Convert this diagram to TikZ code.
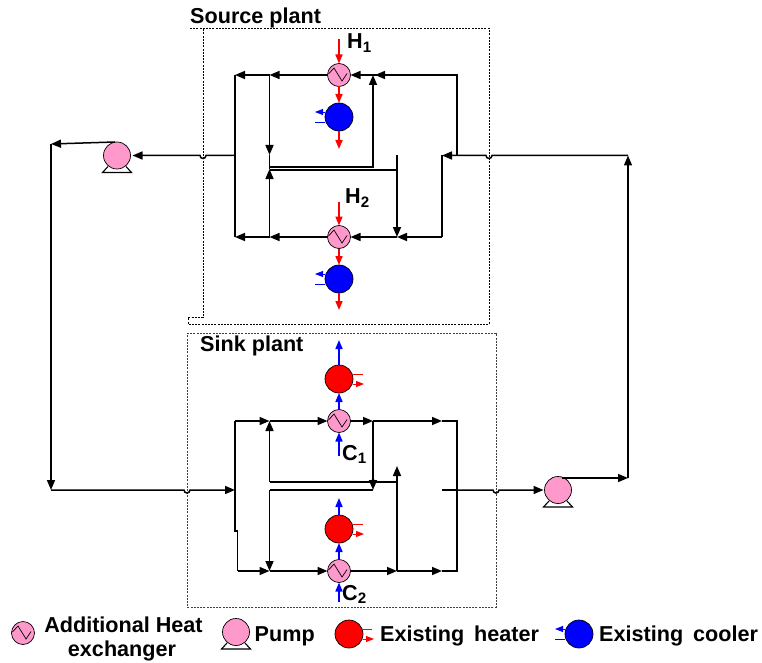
\documentclass[tikz,border=0pt]{standalone}
\usepackage{fontspec}
\setmainfont{Liberation Sans}
\usetikzlibrary{arrows.meta}
\definecolor{pinkfill}{HTML}{FF99CC}
\tikzset{
  x=1pt,y=-1pt,
  pipe/.style={draw=black,line width=1.5pt},
  tipped/.style={pipe,-{Triangle[length=10pt,width=8pt]}},
  hotline/.style={draw=red,line width=1.6pt,-{Triangle[length=9pt,width=7pt]}},
  coldline/.style={draw=blue,line width=1.6pt,-{Triangle[length=9pt,width=7pt]}},
  smallhot/.style={draw=red,line width=0.9pt,-{Triangle[length=8pt,width=6pt]}},
  smallcold/.style={draw=blue,line width=0.9pt,-{Triangle[length=8pt,width=6pt]}},
  hotstub/.style={draw=red,line width=0.9pt},
  coldstub/.style={draw=blue,line width=0.9pt},
  hxnode/.style={circle,draw=black,line width=0.7pt,fill=pinkfill,minimum size=23pt,inner sep=0pt,outer sep=0pt},
  pumpnode/.style={circle,draw=black,line width=0.7pt,fill=pinkfill,minimum size=27pt,inner sep=0pt,outer sep=0pt},
  coolnode/.style={circle,draw=black,line width=0.7pt,fill=blue,minimum size=28pt,inner sep=0pt,outer sep=0pt},
  heatnode/.style={circle,draw=black,line width=0.7pt,fill=red,minimum size=28pt,inner sep=0pt,outer sep=0pt},
  plantbox/.style={draw=black,line width=0.7pt,dash pattern=on 2pt off 1.2pt},
  lab/.style={inner sep=0pt,font=\fontsize{21.6}{24}\selectfont\bfseries},
}
\newcommand{\hxat}[3]{%
  \node[hxnode] (#1) at (#2,#3) {};
  \draw[line width=0.7pt] ([shift={(-10.5,-1)}]#1.center) -- ([shift={(-5,-7)}]#1.center) -- ([shift={(3,6)}]#1.center) -- ([shift={(8,-1.5)}]#1.center);
}
\newcommand{\pumpat}[3]{%
  \draw[line width=1.1pt] ([shift={(-9,11)}]#2,#3) -- ([shift={(-14.5,17)}]#2,#3) -- ([shift={(14.5,17)}]#2,#3) -- ([shift={(9,11)}]#2,#3);
  \node[pumpnode] (#1) at (#2,#3) {};
}
\begin{document}
\begin{tikzpicture}
\useasboundingbox (0,0) rectangle (762,663);
% plant boxes
\draw[plantbox] (190,28.5) -- (489,28.5) -- (489,324) -- (188,324) -- (188,317.5) -- (203,317.5) -- (203,28.5);
\draw[plantbox,draw=black!75] (187,333) -- (496,333) -- (496,607) -- (187,607) -- cycle;
\node[lab,anchor=base west] (srclab) at (190,24) {Source plant};
\node[lab,anchor=base west] (snklab) at (200,351) {Sink plant};
% equipment
\hxat{hxa}{339}{75}
\hxat{hxb}{339}{237}
\hxat{hxc}{339}{421}
\hxat{hxd}{339}{571}
\node[coolnode] (cla) at (339,117) {};
\node[coolnode] (clb) at (339,279) {};
\node[heatnode] (hta) at (339,379) {};
\node[heatnode] (htb) at (339,529) {};
\pumpat{pma}{117}{155.5}
\pumpat{pmb}{558}{490}
% labels
\node[lab,anchor=base west] (ha) at (347,49) {H\textsubscript{1}};
\node[lab,anchor=base west] (hb) at (345,204) {H\textsubscript{2}};
\node[lab,anchor=base west] (ca) at (342,460) {C\textsubscript{1}};
\node[lab,anchor=base west] (cb) at (342,600) {C\textsubscript{2}};
% source side utilities
\coordinate (hain) at (339,39);
\coordinate (haout) at (339,149);
\coordinate (hbin) at (339,202);
\coordinate (hbout) at (339,310);
\draw[hotline] (hain) -- (hxa.north);
\draw[hotline] (hxa.south) -- (cla.north);
\draw[hotline] (cla.south) -- (haout);
\draw[hotline] (hbin) -- (hxb.north);
\draw[hotline] (hxb.south) -- (clb.north);
\draw[hotline] (clb.south) -- (hbout);
\coordinate (cau) at (315,112);\coordinate (cal) at (315,122);
\coordinate (cbu) at (315,274);\coordinate (cbl) at (315,284);
\draw[smallcold] (cla.west |- cau) -- (cau);
\draw[coldstub] (cal) -- (cla.west |- cal);
\draw[smallcold] (clb.west |- cbu) -- (cbu);
\draw[coldstub] (cbl) -- (clb.west |- cbl);
% sink side utilities
\coordinate (caout) at (339,340);
\coordinate (cain) at (339,456);
\coordinate (cbout) at (339,498);
\coordinate (cbin) at (339,602);
\draw[coldline] (hta.north) -- (caout);
\draw[coldline] (hxc.north) -- (hta.south);
\draw[coldline] (cain) -- (hxc.south);
\draw[coldline] (htb.north) -- (cbout);
\draw[coldline] (hxd.north) -- (htb.south);
\draw[coldline] (cbin) -- (hxd.south);
\coordinate (rau) at (363,374);\coordinate (ral) at (364,384);
\coordinate (rbu) at (363,524);\coordinate (rbl) at (364,534);
\draw[hotstub] (hta.east |- rau) -- (rau);
\draw[smallhot] (hta.east |- ral) -- (ral);
\draw[hotstub] (htb.east |- rbu) -- (rbu);
\draw[smallhot] (htb.east |- rbl) -- (rbl);
% source pipes
\coordinate (s1) at (457,75);
\coordinate (s2) at (457,155.5);
\coordinate (s3) at (375,75);
\coordinate (s4) at (269.5,75);
\coordinate (s5) at (235,75);
\coordinate (s6) at (235,237);
\coordinate (s7) at (269.5,237);
\coordinate (s8) at (269.5,155);
\coordinate (s9) at (269.5,169);
\coordinate (s10) at (269.5,167);
\coordinate (s11) at (373,167);
\coordinate (s12) at (373,75);
\coordinate (s13) at (269.5,170);
\coordinate (s14) at (397,170);
\coordinate (s15) at (397,155);
\coordinate (s16) at (397,237);
\coordinate (s17) at (442,237);
\coordinate (s18) at (442,155.5);
\coordinate (m1) at (628,155.5);
\coordinate (m2) at (235,155.5);
\coordinate (r1) at (115,142);
\coordinate (r2) at (51,144);
\coordinate (r3) at (51,490);
\coordinate (r4) at (235,490);
\draw[pipe] (s2) -- (s1) -- (s3);
\draw[tipped] (s1) -- (s3);
\draw[tipped] (s3) -- (hxa.east);
\draw[tipped] (hxa.west) -- (s4);
\draw[tipped] (s4) -- (s5);
\draw[pipe] (s5) -- (s6);
\draw[tipped] (hxb.west) -- (s7);
\draw[tipped] (s7) -- (s6);
\draw[tipped] (s4) -- (s8);
\draw[tipped] (s7) -- (s9);
\draw[pipe] (s8) -- (s9);
\draw[tipped] (s10) -- (s11) -- (s12);
\draw[pipe] (s13) -- (s14);
\draw[tipped] (s15) -- (s16);
\draw[tipped] (s17) -- (s16);
\draw[tipped] (s16) -- (hxb.east);
\draw[pipe] (s18) -- (s17);
% main lines
\draw[tipped] (m1) -- (492,155.5) arc[start angle=0,end angle=180,radius=3] -- (s18);
\draw[tipped,shorten >=2pt] (m2) -- (206,155.5) arc[start angle=0,end angle=180,radius=3] -- (pma.east);
\draw[tipped] (r1) -- (r2);
\draw[tipped] (r2) -- (r3);
\draw[tipped] (r3) -- (184,490) arc[start angle=180,end angle=0,radius=3] -- (r4);
% sink pipes
\coordinate (k1) at (235,421);
\coordinate (k2) at (235,531);
\coordinate (k3) at (237.5,531);
\coordinate (k4) at (237.5,571);
\coordinate (k5) at (269.5,421);
\coordinate (k6) at (269.5,571);
\coordinate (k7) at (373,421);
\coordinate (k8) at (442,421);
\coordinate (k9) at (457,421);
\coordinate (k10) at (457,571);
\coordinate (k11) at (442,571);
\coordinate (k12) at (397,571);
\coordinate (k13) at (397,466);
\coordinate (k14) at (397,482);
\coordinate (k15) at (269.5,482);
\coordinate (k16) at (269.5,490);
\coordinate (k17) at (373,490);
\coordinate (k18) at (442,490);
\coordinate (k19) at (457,490);
\draw[pipe] (k1) -- (k2) -- (k3) -- (k4);
\draw[tipped] (k1) -- (k5);
\draw[tipped] (k5) -- (hxc.west);
\draw[tipped] (hxc.east) -- (k7);
\draw[tipped] (k7) -- (k8);
\draw[pipe] (k8) -- (k9) -- (k10) -- (k11);
\draw[tipped] (k4) -- (k6);
\draw[tipped] (k6) -- (hxd.west);
\draw[tipped] (hxd.east) -- (k12);
\draw[tipped] (k12) -- (k11);
\draw[tipped] (k12) -- (k13);
\draw[pipe] (k14) -- (k15);
\draw[tipped] (k15) -- (k5);
\draw[pipe] (k17) -- (k16);
\draw[tipped] (k16) -- (k6);
\draw[tipped] (k7) -- (k17);
\fill (373,478) -- (376,482) -- (373,486) -- (370,482) -- cycle;
\draw[pipe,line width=2pt] (k18) -- (k19);
\draw[tipped,shorten >=1pt] (k19) -- (493,490) arc[start angle=180,end angle=0,radius=3] -- (pmb.west);
\coordinate (p1) at (562,478);
\coordinate (p2) at (628,478);
\draw[tipped] (p1) -- (p2);
\draw[tipped] (p2) -- (m1);
% legend
\hxat{lhx}{23}{633}
\pumpat{lpm}{236}{632}
\node[heatnode] (lht) at (349,634) {};
\node[coolnode] (lcl) at (579,634) {};
\coordinate (lru) at (372,629);\coordinate (lrl) at (374,639);
\draw[hotstub] (lht.east |- lru) -- (lru);
\draw[smallhot] (lht.east |- lrl) -- (lrl);
\coordinate (lcu) at (555,629);\coordinate (lcb) at (555,639);
\draw[smallcold] (lcl.west |- lcu) -- (lcu);
\draw[coldstub] (lcb) -- (lcl.west |- lcb);
\node[lab,anchor=base] (l1) at (123.5,632) {Additional Heat};
\node[lab,anchor=base] (l2) at (122,656) {exchanger};
\node[lab,anchor=base west] (l3) at (254.5,641) {Pump};
\node[lab,anchor=base west] (l4) at (380,641.5) {Existing\hspace{10pt}heater};
\node[lab,anchor=base west] (l5) at (599,641.5) {Existing\hspace{10pt}cooler};
\end{tikzpicture}
\end{document}
